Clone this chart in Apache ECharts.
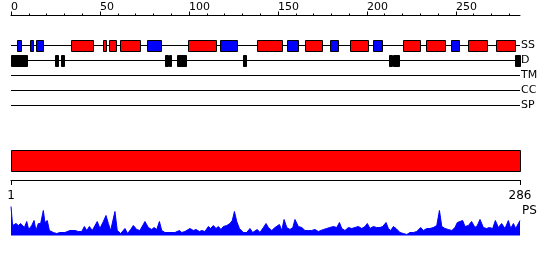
<!DOCTYPE html>
<html>
<head>
<meta charset="utf-8">
<script src="https://cdn.jsdelivr.net/npm/echarts@6/dist/echarts.min.js"></script>
<style>html,body{margin:0;padding:0;background:#fff}#c{width:550px;height:260px}</style>
</head>
<body>
<div id="c"></div>
<script>
// ---- data ----
const trackNames = ['SS', 'D', 'TM', 'CC', 'SP'];
const trackLevels = [2, 3, 4, 5, 6];
const seqStart = 0;
const seqLength = 286;
const majorTicks = [0, 50, 100, 150, 200, 250];
const minorTicks = [10, 20, 30, 40, 60, 70, 80, 90, 110, 120, 130, 140, 160, 170, 180, 190, 210, 220, 230, 240, 260, 270, 280];
const rulerTicks = [1, 286];
// secondary structure (start, end)
const ssHelix = [[33.5, 46], [51.5, 53.5], [55, 59], [61.5, 72.5], [99.5, 115], [138, 152], [165, 175], [190.5, 200.5], [220, 230], [233, 244], [257, 267.5], [272.5, 283]];
const ssStrand = [[3.5, 5.5], [10.5, 12.5], [14, 18], [76.5, 84.5], [117.5, 127], [155, 161.5], [179, 184], [203.5, 208.5], [247, 252]];
// disordered regions
const disorder = [[0, 9], [25, 26.5], [28, 29.5], [86.5, 88], [89, 90], [93.5, 98.5], [130.5, 132], [212.5, 214], [214.5, 218], [283, 286]];
// domain
const domains = [[1, 286]];
// PS profile
const psPos = [1, 1.9, 3.8, 5.1, 6.4, 7.5, 8.5, 9.8, 10.9, 12.6, 13.9, 15, 16.3, 17.6, 19.1, 20, 21.3, 22.5, 24.7, 26.6, 28.4, 31.2, 34, 35, 36.8, 38.7, 40.6, 42.1, 43.4, 44.9, 46.5, 49.3, 50.8, 52.7, 54.2, 55.5, 56.8, 59.2, 60.5, 62.4, 64.8, 66.3, 68, 69.5, 71.4, 73.2, 76, 77.9, 79.8, 81.1, 82.6, 84.1, 85.4, 87.2, 90, 92.8, 95.3, 96.6, 98.4, 101.2, 103.1, 104.6, 106.5, 107.8, 109.6, 111.5, 112.8, 114.3, 115.8, 117.1, 118.6, 119.9, 121.8, 123.6, 124.9, 126.1, 127.4, 128.9, 131.1, 133, 134.8, 136.3, 138.9, 140.4, 142.3, 143.8, 145.1, 147, 148.8, 151.3, 152.6, 153.9, 155.4, 157.2, 158.8, 160, 161.9, 163.8, 165.6, 167.5, 169.4, 171.2, 173.1, 175.9, 177.7, 179.6, 181.5, 183.4, 184.9, 186.2, 188, 189.9, 191.8, 193.6, 195.5, 197.4, 199.2, 200.5, 202, 203.9, 205.7, 207.6, 209.1, 211, 212.3, 213.6, 215.1, 216.6, 218.8, 220.7, 222.6, 224.4, 226.3, 228.2, 230.4, 231.9, 233.8, 235.6, 237.5, 239.4, 240.9, 242.2, 244, 245.9, 247.8, 249.6, 250.9, 252.4, 253.9, 255.2, 257.1, 258.9, 260.8, 262.1, 263.6, 265.5, 267.3, 268.8, 270.7, 272.2, 273.9, 275.7, 277.6, 279.5, 280.8, 282.3, 283.6, 284.5, 286];
const psVal = [29, 10, 12, 10, 12, 13, 8, 14, 6, 10, 15, 5, 12, 12, 25, 13, 15, 5, 3, 2, 3, 3, 5, 4, 5, 4, 4, 9, 5, 9, 5, 14, 7, 14, 20, 12, 5, 24, 5, 2, 7, 2, 6, 10, 6, 5, 14, 8, 6, 8, 6, 14, 5, 3, 3, 3, 5, 3, 4, 7, 5, 6, 4, 5, 4, 9, 7, 10, 7, 9, 6, 9, 10, 12, 15, 24, 14, 7, 3, 3, 7, 3, 6, 3, 8, 12, 8, 5, 8, 11, 5, 16, 8, 6, 8, 16, 9, 8, 5, 5, 5, 6, 4, 6, 7, 8, 9, 8, 13, 7, 5, 8, 7, 8, 9, 7, 9, 12, 7, 9, 8, 8, 9, 13, 7, 5, 9, 7, 3, 2, 1, 3, 3, 4, 8, 5, 7, 7, 8, 10, 25, 9, 7, 6, 5, 8, 13, 14, 15, 9, 10, 14, 8, 10, 16, 8, 7, 8, 7, 15, 8, 12, 7, 15, 7, 12, 7, 9, 15];

// ---- chart ----
const chart = echarts.init(document.getElementById('c'), null, {renderer: 'canvas'});

function rectRender(fill, stroke) {
  return function (params, api) {
    const s = api.coord([api.value(0), api.value(2)]);
    const e = api.coord([api.value(1), api.value(2)]);
    const x0 = Math.round(s[0]) + 0.5;
    const w = Math.max(1, Math.round(e[0]) - Math.round(s[0]));
    const y0 = Math.round(s[1] - 6) + 0.5;
    return {
      type: 'rect',
      shape: {x: x0, y: y0, width: w, height: 11},
      style: {fill: fill, stroke: stroke, lineWidth: 1}
    };
  };
}

const trackLines = trackNames.map((n, i) => ({
  type: 'line', name: n, xAxisIndex: 0, yAxisIndex: 0,
  data: [[seqStart, trackLevels[i]], [seqLength, trackLevels[i]]],
  symbol: 'none', silent: true, z: 1,
  lineStyle: {color: '#000', width: 1},
  endLabel: {show: true, formatter: p => p.seriesName, distance: 1, fontSize: 11, color: '#000', fontFamily: 'DejaVu Sans'}
}));

const option = {
  animation: false,
  backgroundColor: '#fff',
  textStyle: {fontFamily: 'DejaVu Sans'},
  grid: [
    {left: 11, right: 30, top: 15.5, height: 90},
    {left: 11, right: 30, top: 150, height: 21},
    {left: 11, right: 30, top: 180, height: 55.5}
  ],
  xAxis: [
    {gridIndex: 0, type: 'value', position: 'top', min: seqStart, max: seqLength,
      axisLine: {show: true, onZero: false, lineStyle: {color: '#000', width: 1}},
      axisTick: {show: true, length: 4, customValues: majorTicks, lineStyle: {color: '#000'}},
      axisLabel: {show: true, customValues: majorTicks, align: 'left', margin: 3, fontSize: 11, color: '#000'},
      splitLine: {show: false}},
    {gridIndex: 0, type: 'value', position: 'top', min: seqStart, max: seqLength,
      axisLine: {show: false, onZero: false},
      axisTick: {show: true, length: 2, customValues: minorTicks, lineStyle: {color: '#000'}},
      axisLabel: {show: false},
      splitLine: {show: false}},
    {gridIndex: 1, type: 'value', min: 1, max: seqLength, show: false},
    {gridIndex: 2, type: 'value', position: 'top', min: 1, max: seqLength,
      axisLine: {show: true, onZero: false, lineStyle: {color: '#000', width: 1}},
      axisTick: {show: true, inside: true, length: 5, customValues: rulerTicks, lineStyle: {color: '#000'}},
      axisLabel: {show: true, inside: true, customValues: rulerTicks, margin: 10, fontSize: 12, color: '#000'},
      splitLine: {show: false}}
  ],
  yAxis: [
    {gridIndex: 0, type: 'value', min: 0, max: 6, inverse: true, show: false},
    {gridIndex: 1, type: 'value', min: 0, max: 1, show: false},
    {gridIndex: 2, type: 'value', min: 0, max: 55.5, show: false}
  ],
  graphic: [
    {type: 'text', left: 522, top: 205, style: {text: 'PS', fontSize: 12, fill: '#000', fontFamily: 'DejaVu Sans'}}
  ],
  series: [
    ...trackLines,
    {type: 'custom', xAxisIndex: 0, yAxisIndex: 0, z: 3, silent: true,
      renderItem: rectRender('#ff0000', '#000'),
      data: ssHelix.map(d => [d[0], d[1], trackLevels[0]])},
    {type: 'custom', xAxisIndex: 0, yAxisIndex: 0, z: 3, silent: true,
      renderItem: rectRender('#0000ff', '#000'),
      data: ssStrand.map(d => [d[0], d[1], trackLevels[0]])},
    {type: 'custom', xAxisIndex: 0, yAxisIndex: 0, z: 3, silent: true,
      renderItem: rectRender('#000', '#000'),
      data: disorder.map(d => [d[0], d[1], trackLevels[1]])},
    {type: 'custom', xAxisIndex: 2, yAxisIndex: 1, z: 3, silent: true,
      renderItem: function (params, api) {
        const a = api.coord([api.value(0), 1]);
        const b = api.coord([api.value(1), 0]);
        return {type: 'rect',
          shape: {x: Math.round(a[0]) + 0.5, y: Math.round(a[1]) + 0.5, width: Math.round(b[0] - a[0]), height: Math.round(b[1] - a[1])},
          style: {fill: '#ff0000', stroke: '#000', lineWidth: 1}};
      },
      data: domains.map(d => [d[0], d[1]])},
    {type: 'line', xAxisIndex: 3, yAxisIndex: 2, symbol: 'none', silent: true,
      data: psPos.map((p, i) => [p, psVal[i]]),
      lineStyle: {color: '#0000ff', width: 1},
      areaStyle: {color: '#0000ff', opacity: 1}}
  ]
};
chart.setOption(option);
</script>
</body>
</html>
